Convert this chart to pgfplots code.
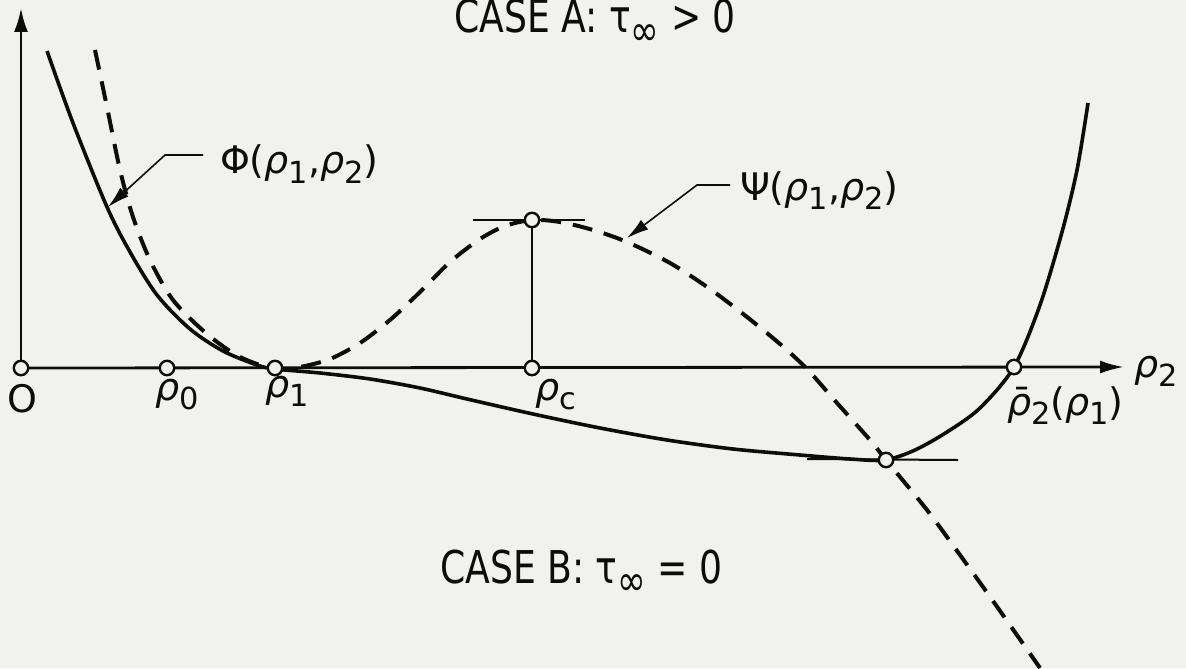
\documentclass[border=0pt]{standalone}
\usepackage{fontspec}
\setmainfont{DejaVu Sans}
\newfontfamily\narrowfont[FakeStretch=0.8]{DejaVu Sans}
\usepackage{pgfplots}
\pgfplotsset{compat=1.18}
\usetikzlibrary{arrows.meta}
\definecolor{paper}{RGB}{241,241,239}
\definecolor{ink}{RGB}{12,12,12}
\newcommand\rh{\textit{ρ}}
\newcommand\sub[1]{\raisebox{-0.45ex}{\scalebox{0.8}{#1}}}
\newcommand\infsub{\raisebox{-0.5ex}{\scalebox{0.95}{∞}}}
\newcommand\lbl{\fontsize{19}{22}\selectfont}
\newcommand\ttl{\narrowfont\fontsize{22.6}{26}\selectfont}

\begin{document}
\begin{tikzpicture}
\useasboundingbox (0,0) rectangle (593pt,334pt);
\begin{axis}[
  at={(0,0)}, anchor=south west,
  width=593pt, height=334pt, scale only axis,
  xmin=0, xmax=1186, ymin=0, ymax=668, y dir=reverse,
  hide axis, clip=false,
]
\fill[paper] (rel axis cs:0,0) rectangle (rel axis cs:1,1);

% coordinate axes
\draw[ink, line width=1.4pt, -{Latex[length=12pt,width=7pt]}] (21,368) -- (21,8);
\draw[ink, line width=1.4pt, -{Latex[length=12pt,width=6.5pt]}] (21,368) -- (1124,367);

% Phi(rho1, rho2)
\addplot[ink, line width=1.8pt, smooth] coordinates {
  (47,51) (73,123) (107,207) (130,252) (157,295) (190,329) (223,351)
  (257,365) (275,369) (320,373) (370,379) (420,388) (467,399) (533,414)
  (600,428) (667,440) (733,449) (800,455) (850,459) (885,460)
  (915,450) (947,432) (980,408) (1014,367) (1040,305) (1062,232)
  (1077,170) (1088,103)
};

% Psi(rho1, rho2)
\addplot[ink, line width=2pt, smooth, dash pattern=on 10pt off 6pt] coordinates {
  (95,50) (107,107) (120,170) (133,217) (150,260) (173,300) (207,334)
  (240,357) (275,369) (300,367) (330,359) (360,343) (390,320) (420,292)
  (450,262) (480,239) (505,226) (532,220) (560,222) (593,230) (627,242)
  (670,263) (710,289) (747,317) (780,344) (807,369) (837,403) (870,440)
  (886,460) (927,510) (960,555) (993,601) (1040,668)
};

% construction lines
\draw[ink, line width=1.1pt] (532,368) -- (532,220);
\draw[ink, line width=1pt] (473,220) -- (585,220);
\draw[ink, line width=1pt] (807,459) -- (958,460);

% leaders
\draw[ink, line width=0.8pt, -{Latex[length=11pt,width=6pt]}] (203,155) -- (165,155) -- (108,207);
\draw[ink, line width=0.8pt, -{Latex[length=11pt,width=6pt]}] (730,185) -- (697,185) -- (627,238);

% points on the axes and curves
\addplot[only marks, mark=*, mark size=3.6pt,
  mark options={draw=ink, fill=paper, line width=1.2pt}] coordinates {
  (21,368) (167,368) (275,368) (532,368) (532,220) (1014,367) (886,460)
};

% labels
\node[ink, font=\lbl, anchor=base] at (22,412) {O};
\node[ink, font=\lbl, anchor=base west] at (148,400) {\rh\sub{0}};
\node[ink, font=\lbl, anchor=base west] at (258,397) {\rh\sub{1}};
\node[ink, font=\lbl, anchor=base west] at (528,400) {\rh\sub{c}};
\node[ink, font=\lbl, anchor=base west] at (1127,377) {\rh\sub{2}};
\node[ink, font=\lbl, anchor=base west] at (1000,415) {\={\rh}\sub{2}(\rh\sub{1})};
\node[ink, font=\lbl, anchor=base west] at (213,174) {Φ(\rh\sub{1},\rh\sub{2})};
\node[ink, font=\lbl, anchor=base west] at (733,200) {Ψ(\rh\sub{1},\rh\sub{2})};

\node[ink, font=\ttl, anchor=base west] at (447,33) {CASE A: τ\infsub{} > 0};
\node[ink, font=\ttl, anchor=base west] at (433,583) {CASE B: τ\infsub{} = 0};
\end{axis}
\end{tikzpicture}
\end{document}
